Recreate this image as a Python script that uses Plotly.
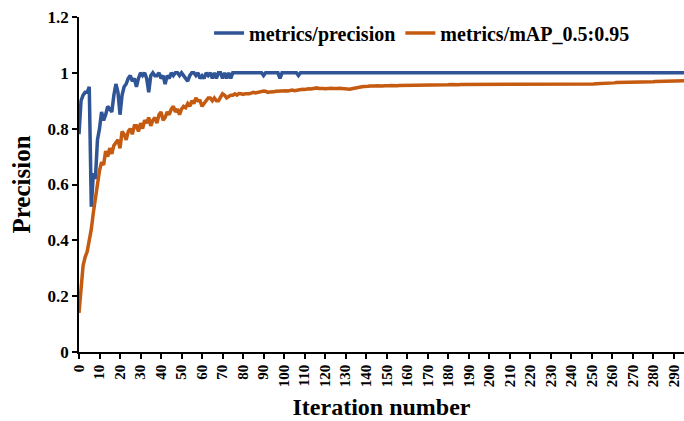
import plotly.graph_objects as go

iterations = list(range(300))

precision = [
    0.78, 0.90, 0.92, 0.93, 0.93, 0.95, 0.52, 0.64, 0.62, 0.76,
    0.80, 0.86, 0.83, 0.85, 0.88, 0.87, 0.86, 0.92, 0.96, 0.93,
    0.85, 0.92, 0.95, 0.96, 0.98, 0.99, 0.97, 0.98, 0.95, 0.98,
    1.00, 0.99, 1.00, 0.98, 0.93, 0.99, 1.00, 0.99, 0.99, 1.00,
    0.98, 0.99, 0.96, 0.99, 0.98, 1.00, 0.99, 1.00, 1.00, 0.99,
    1.00, 0.99, 0.98, 0.97, 0.99, 1.00, 1.00, 0.99, 1.00, 0.98,
    0.99, 0.98, 1.00, 0.99, 1.00, 0.98, 1.00, 0.98, 1.00, 1.00,
    0.98, 1.00, 0.98, 1.00, 0.98, 1.00, 1.00, 1.00, 1.00, 1.00,
    1.00, 1.00, 1.00, 1.00, 1.00, 1.00, 1.00, 1.00, 1.00, 1.00,
    0.99, 1.00, 1.00, 1.00, 1.00, 1.00, 1.00, 1.00, 0.98, 1.00,
    1.00, 1.00, 1.00, 1.00, 1.00, 1.00, 1.00, 0.99, 1.00, 1.00,
    1.00, 1.00, 1.00, 1.00, 1.00, 1.00, 1.00, 1.00, 1.00, 1.00,
    1.00, 1.00, 1.00, 1.00, 1.00, 1.00, 1.00, 1.00, 1.00, 1.00,
    1.00, 1.00, 1.00, 1.00, 1.00, 1.00, 1.00, 1.00, 1.00, 1.00,
    1.00, 1.00, 1.00, 1.00, 1.00, 1.00, 1.00, 1.00, 1.00, 1.00,
    1.00, 1.00, 1.00, 1.00, 1.00, 1.00, 1.00, 1.00, 1.00, 1.00,
    1.00, 1.00, 1.00, 1.00, 1.00, 1.00, 1.00, 1.00, 1.00, 1.00,
    1.00, 1.00, 1.00, 1.00, 1.00, 1.00, 1.00, 1.00, 1.00, 1.00,
    1.00, 1.00, 1.00, 1.00, 1.00, 1.00, 1.00, 1.00, 1.00, 1.00,
    1.00, 1.00, 1.00, 1.00, 1.00, 1.00, 1.00, 1.00, 1.00, 1.00,
    1.00, 1.00, 1.00, 1.00, 1.00, 1.00, 1.00, 1.00, 1.00, 1.00,
    1.00, 1.00, 1.00, 1.00, 1.00, 1.00, 1.00, 1.00, 1.00, 1.00,
    1.00, 1.00, 1.00, 1.00, 1.00, 1.00, 1.00, 1.00, 1.00, 1.00,
    1.00, 1.00, 1.00, 1.00, 1.00, 1.00, 1.00, 1.00, 1.00, 1.00,
    1.00, 1.00, 1.00, 1.00, 1.00, 1.00, 1.00, 1.00, 1.00, 1.00,
    1.00, 1.00, 1.00, 1.00, 1.00, 1.00, 1.00, 1.00, 1.00, 1.00,
    1.00, 1.00, 1.00, 1.00, 1.00, 1.00, 1.00, 1.00, 1.00, 1.00,
    1.00, 1.00, 1.00, 1.00, 1.00, 1.00, 1.00, 1.00, 1.00, 1.00,
    1.00, 1.00, 1.00, 1.00, 1.00, 1.00, 1.00, 1.00, 1.00, 1.00,
    1.00, 1.00, 1.00, 1.00, 1.00, 1.00, 1.00, 1.00, 1.00, 1.00,
]

map_50_95 = [
    0.14, 0.24, 0.31, 0.34, 0.36, 0.40, 0.44, 0.50, 0.56, 0.60,
    0.65, 0.68, 0.67, 0.72, 0.70, 0.73, 0.71, 0.74, 0.75, 0.76,
    0.73, 0.79, 0.78, 0.76, 0.79, 0.80, 0.78, 0.81, 0.81, 0.79,
    0.82, 0.80, 0.83, 0.82, 0.84, 0.81, 0.83, 0.84, 0.82, 0.85,
    0.86, 0.83, 0.84, 0.86, 0.85, 0.87, 0.88, 0.86, 0.87, 0.85,
    0.87, 0.88, 0.875, 0.89, 0.88, 0.90, 0.89, 0.91, 0.90, 0.90,
    0.88, 0.89, 0.90, 0.91, 0.91, 0.90, 0.91, 0.90, 0.90, 0.91,
    0.925, 0.92, 0.91, 0.915, 0.92, 0.92, 0.925, 0.92, 0.926, 0.925,
    0.923, 0.925, 0.924, 0.925, 0.927, 0.930, 0.928, 0.930, 0.932, 0.933,
    0.935, 0.934, 0.930, 0.931, 0.930, 0.932, 0.934, 0.935, 0.933, 0.934,
    0.935, 0.936, 0.935, 0.937, 0.938, 0.936, 0.938, 0.939, 0.940, 0.941,
    0.940, 0.942, 0.943, 0.942, 0.944, 0.945, 0.946, 0.944, 0.945, 0.944,
    0.943, 0.944, 0.946, 0.945, 0.944, 0.943, 0.944, 0.945, 0.944, 0.943,
    0.942, 0.943, 0.941, 0.943, 0.945, 0.946, 0.948, 0.949, 0.950, 0.951,
    0.950, 0.952, 0.953, 0.952, 0.953, 0.954, 0.953, 0.952, 0.953, 0.954,
    0.953, 0.954, 0.955, 0.954, 0.955, 0.954, 0.955, 0.955, 0.956, 0.955,
    0.954, 0.955, 0.956, 0.955, 0.956, 0.955, 0.956, 0.956, 0.955, 0.956,
    0.956, 0.957, 0.956, 0.957, 0.956, 0.957, 0.957, 0.956, 0.957, 0.957,
    0.957, 0.958, 0.957, 0.957, 0.958, 0.957, 0.958, 0.958, 0.957, 0.958,
    0.958, 0.958, 0.959, 0.958, 0.958, 0.959, 0.958, 0.959, 0.958, 0.958,
    0.958, 0.958, 0.959, 0.958, 0.958, 0.958, 0.959, 0.958, 0.958, 0.958,
    0.958, 0.958, 0.958, 0.959, 0.958, 0.958, 0.958, 0.959, 0.958, 0.958,
    0.958, 0.958, 0.958, 0.958, 0.959, 0.958, 0.958, 0.958, 0.958, 0.959,
    0.958, 0.958, 0.959, 0.958, 0.958, 0.959, 0.959, 0.958, 0.959, 0.959,
    0.959, 0.959, 0.959, 0.960, 0.959, 0.959, 0.960, 0.960, 0.959, 0.960,
    0.960, 0.960, 0.961, 0.961, 0.962, 0.962, 0.963, 0.963, 0.963, 0.964,
    0.964, 0.964, 0.965, 0.965, 0.965, 0.965, 0.966, 0.965, 0.966, 0.966,
    0.966, 0.966, 0.967, 0.967, 0.967, 0.967, 0.968, 0.968, 0.968, 0.968,
    0.968, 0.969, 0.969, 0.969, 0.969, 0.970, 0.970, 0.970, 0.970, 0.971,
    0.971, 0.971, 0.971, 0.971, 0.972, 0.972, 0.972, 0.972, 0.972, 0.972,
]

x_ticks = list(range(0, 300, 10))
y_ticks = [0, 0.2, 0.4, 0.6, 0.8, 1.0, 1.2]
y_tick_labels = ["0", "0.2", "0.4", "0.6", "0.8", "1", "1.2"]

FONT = "Liberation Serif"

fig = go.Figure()
fig.add_trace(go.Scatter(
    x=iterations, y=precision, mode="lines", name="metrics/precision",
    line=dict(color="#2F5597", width=3.5),
))
fig.add_trace(go.Scatter(
    x=iterations, y=map_50_95, mode="lines", name="metrics/mAP_0.5:0.95",
    line=dict(color="#C55A11", width=3.5),
))

fig.update_layout(
    width=684, height=421,
    paper_bgcolor="white", plot_bgcolor="white",
    margin=dict(l=79, r=0, t=17, b=69),
    font=dict(family=FONT, color="black"),
    showlegend=True,
    legend=dict(
        orientation="h", x=0.215, y=0.952, xanchor="left", yanchor="middle",
        font=dict(family=FONT, size=20, color="black", weight="bold"),
        bgcolor="rgba(0,0,0,0)", tracegroupgap=0,
    ),
    xaxis=dict(
        range=[0, 295], tickmode="array", tickvals=x_ticks,
        tickangle=-90, ticks="outside", ticklen=5, tickwidth=1.5, tickcolor="black",
        showline=True, linecolor="black", linewidth=1.5,
        showgrid=False, zeroline=False,
        tickfont=dict(family=FONT, size=15, color="black", weight="bold"),
        title=dict(text="Iteration number", standoff=12,
                   font=dict(family=FONT, size=24, color="black", weight="bold")),
        automargin=False,
    ),
    yaxis=dict(
        range=[0, 1.2], tickmode="array", tickvals=y_ticks, ticktext=y_tick_labels,
        ticks="outside", ticklen=5, tickwidth=1.5, tickcolor="black",
        showline=True, linecolor="black", linewidth=1.5,
        showgrid=False, zeroline=False,
        tickfont=dict(family=FONT, size=17, color="black", weight="bold"),
        title=dict(text="Precision", standoff=10,
                   font=dict(family=FONT, size=25, color="black", weight="bold")),
        automargin=False,
    ),
)

fig.write_html(
    "out.html",
    config={"displayModeBar": False},
    post_script="document.body.style.margin='0';",
)
